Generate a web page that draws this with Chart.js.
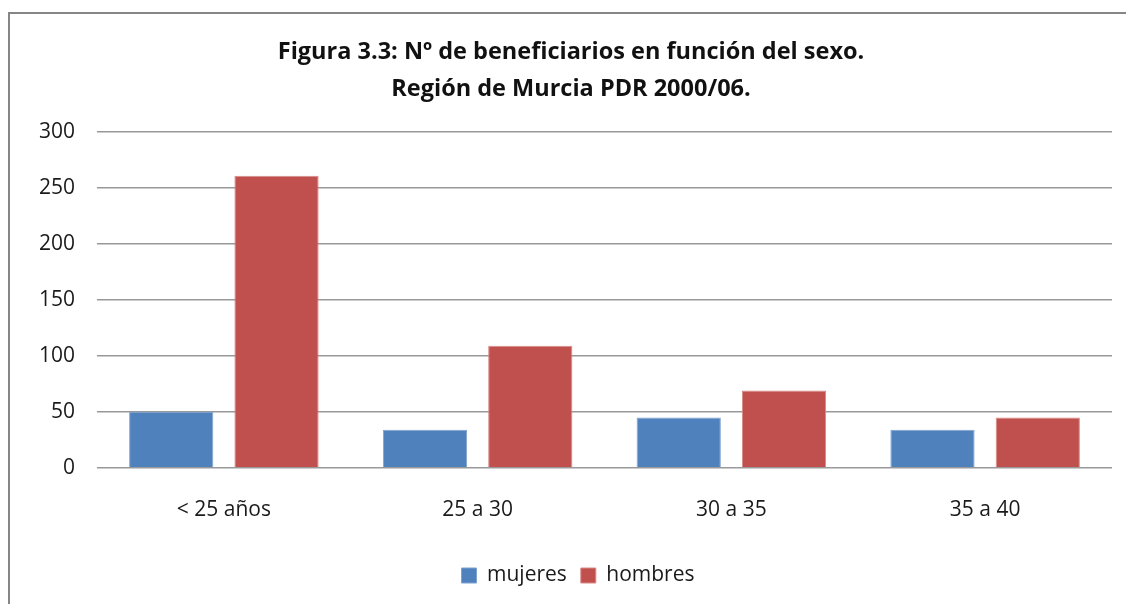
<!DOCTYPE html>
<html>
<head>
<meta charset="utf-8">
<script src="https://cdn.jsdelivr.net/npm/chart.js@4/dist/chart.umd.min.js"></script>
<style>
  html, body { margin: 0; padding: 0; background: #fff; }
  #wrap { width: 1126px; height: 604px; position: relative; }
</style>
</head>
<body>
<div id="wrap"><canvas id="chart" width="1126" height="604"></canvas></div>
<script>
// data
const categories = ['< 25 años', '25 a 30', '30 a 35', '35 a 40'];
const mujeres = [50, 34, 45, 34];
const hombres = [261, 109, 69, 45];
const titleLines = ['Figura 3.3: Nº de beneficiarios en función del sexo.', 'Región de Murcia PDR 2000/06.'];

const FONT = "'Open Sans', 'Liberation Sans', sans-serif";

// outer frame like the spreadsheet chart border (cut off right and bottom)
const framePlugin = {
  id: 'frame',
  beforeDraw(c) {
    const ctx = c.ctx;
    ctx.save();
    ctx.strokeStyle = '#868686';
    ctx.lineWidth = 2;
    ctx.beginPath();
    ctx.moveTo(9, 610);
    ctx.lineTo(9, 13);
    ctx.lineTo(1130, 13);
    ctx.stroke();
    ctx.restore();
  },
  // title and legend sit a bit right of the canvas centre in the original
  afterLayout(c) {
    if (c.legend) { c.legend.left += 22; c.legend.right += 22; }
    if (c.titleBlock) { c.titleBlock.left += 15; c.titleBlock.right += 15; }
  }
};

new Chart(document.getElementById('chart'), {
  type: 'bar',
  data: {
    labels: categories,
    datasets: [
      { label: 'mujeres', data: mujeres, backgroundColor: '#4F81BD', borderColor: '#7fa2cf', borderWidth: 1, categoryPercentage: 0.83, barPercentage: 0.8 },
      { label: 'hombres', data: hombres, backgroundColor: '#C0504D', borderColor: '#d88a88', borderWidth: 1, categoryPercentage: 0.83, barPercentage: 0.8 }
    ]
  },
  options: {
    responsive: false,
    animation: false,
    layout: { padding: { left: 0, right: 14, top: 34, bottom: 8 } },
    scales: {
      x: {
        grid: { display: false },
        border: { display: false },
        ticks: { color: '#1a1a1a', font: { family: FONT, size: 21 }, padding: 22 },
        afterFit(s) { s.height += 6; }
      },
      y: {
        min: 0, max: 300,
        ticks: { stepSize: 50, color: '#1a1a1a', font: { family: FONT, size: 21 }, padding: 22 },
        grid: { color: '#999', lineWidth: 1.5, drawTicks: false },
        border: { display: false },
        afterFit(s) { s.width = 97; }
      }
    },
    plugins: {
      title: {
        display: true,
        text: titleLines,
        color: '#111',
        font: { family: FONT, size: 23.5, weight: 'bold', lineHeight: 1.575 },
        padding: { top: 0, bottom: 24 }
      },
      legend: {
        position: 'bottom',
        labels: {
          color: '#1a1a1a',
          font: { family: FONT, size: 21 },
          boxWidth: 15, boxHeight: 15,
          padding: 14
        }
      },
      tooltip: { enabled: false }
    }
  },
  plugins: [framePlugin]
});
</script>
</body>
</html>
